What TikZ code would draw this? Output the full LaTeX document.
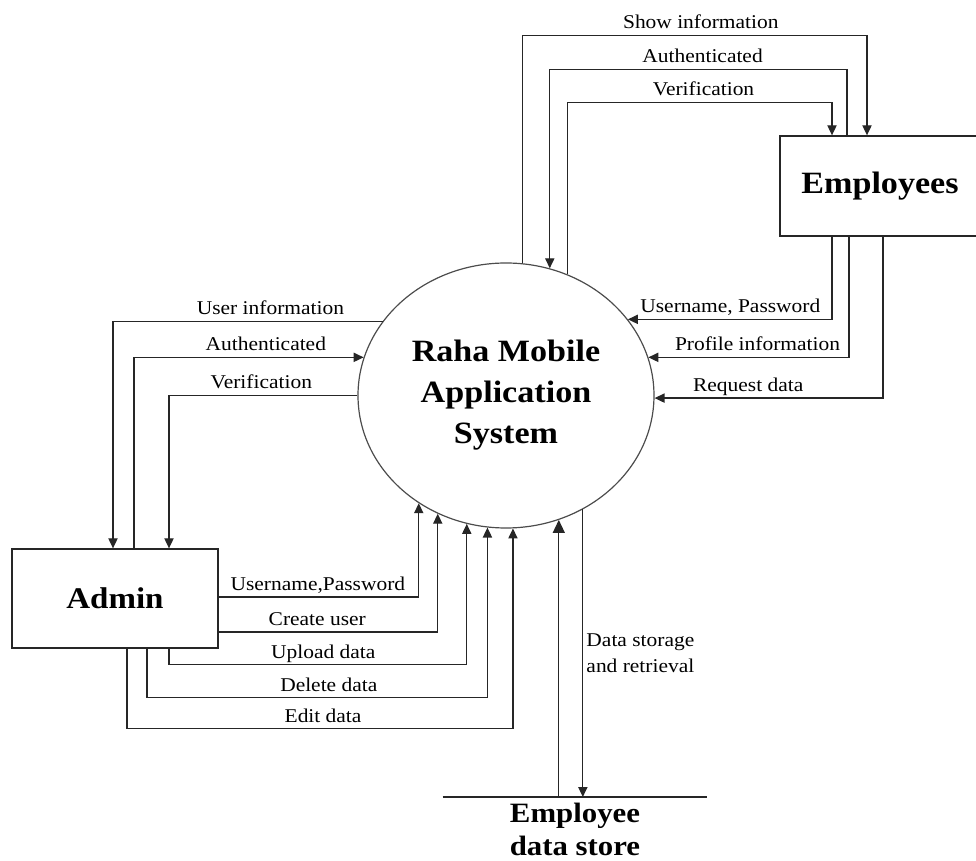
\documentclass[tikz,border=0pt]{standalone}
\usepackage{fontspec}
\setmainfont{Liberation Serif}[FakeStretch=1.1]
\usetikzlibrary{arrows.meta, shapes.geometric, calc}

\begin{document}
\begin{tikzpicture}[
    x=0.5pt, y=-0.5pt,
    process/.style={ellipse, draw=black!70, line width=0.6pt,
                    minimum width=148pt, minimum height=132.5pt,
                    align=center, font=\fontsize{15.5}{20.5}\selectfont\bfseries},
    entity/.style={rectangle, draw=black!85, line width=0.65pt,
                   align=center, font=\fontsize{15.5}{18}\selectfont\bfseries},
    store/.style={anchor=north, align=center, inner sep=3pt,
                  minimum width=132pt, font=\fontsize{14}{16.5}\selectfont\bfseries},
    flow/.style={-{Triangle[length=5pt, width=4.6pt]}, draw=black!85, line width=0.65pt},
    bigflow/.style={flow, -{Triangle[length=6.5pt, width=6pt]}},
    plain/.style={draw=black!85, line width=0.65pt},
    lbl/.style={font=\fontsize{9.75}{13}\selectfont, inner sep=0pt,
                anchor=base, yshift=3.25pt}
]
\useasboundingbox (0,0) rectangle (976,861);

%% --- PROCESS, ENTITIES, STORE ---
\node[process] (sys) at (506,395.5) {Raha Mobile\\Application\\System};
\node[entity, minimum width=100pt, minimum height=50pt] (emp) at (880,186) {Employees};
\node[entity, minimum width=103pt, minimum height=49.5pt,
      font=\fontsize{15}{18}\selectfont\bfseries] (admin) at (115,598.5) {Admin};
\node[store] (store) at (575,797) {Employee\\data store};
\draw[plain] (store.north west) -- (store.north east);

%% --- EMPLOYEES <-> SYSTEM (over the top) ---
\draw[flow] (sys.83.5) |- node[lbl, pos=0.759] {Show information}
    ($(emp.north)+(-13,-100)$) -- ($(emp.north)+(-13,0)$);
\draw[flow] ($(emp.north)+(-33,0)$) -- ++(0,-66)
    -| node[lbl, pos=0.243] {Authenticated} (sys.71.3);
\draw[flow] (sys.63.2) |- node[lbl, pos=0.757] {Verification}
    ($(emp.north)+(-48,-33)$) -- ($(emp.north)+(-48,0)$);

%% --- EMPLOYEES -> SYSTEM (right side) ---
\draw[flow] ($(emp.south)+(-48,0)$) |- node[lbl, pos=0.749] {Username, Password} (sys.32.3);
\draw[flow] ($(emp.south)+(-31,0)$) |- node[lbl, pos=0.728] {Profile information} (sys.15.6);
\draw[flow] ($(emp.south)+(3,0)$) |- node[lbl, pos=0.795] {Request data} (sys.359.4);

%% --- ADMIN <-> SYSTEM (left side) ---
\draw[flow] (sys.149.7) -| node[lbl, pos=0.208] {User information} ($(admin.north)+(-2,0)$);
\draw[flow] ($(admin.north)+(19,0)$) |- node[lbl, pos=0.787] {Authenticated} (sys.165.6);
\draw[flow] (sys.180) -| node[lbl, pos=0.255] {Verification} ($(admin.north)+(54,0)$);

%% --- ADMIN -> SYSTEM (underneath) ---
\draw[flow] ($(admin.east)+(0,-1.5)$) -| node[lbl, pos=0.248] {Username,Password} (sys.231.4);
\draw[flow] ($(admin.east)+(0,33.5)$) -| node[lbl, pos=0.225] {Create user} (sys.240.9);
\draw[flow] ($(admin.south)+(54,0)$) -- ++(0,16)
    -| node[lbl, pos=0.259] {Upload data} (sys.253);
\draw[flow] ($(admin.south)+(32,0)$) -- ++(0,49)
    -| node[lbl, pos=0.267] {Delete data} (sys.262.2);
\draw[flow] ($(admin.south)+(12,0)$) -- ++(0,80)
    -| node[lbl, pos=0.254] {Edit data} (sys.273.5);

%% --- SYSTEM <-> STORE ---
\draw[bigflow] (sys.293.2 |- store.north) -- (sys.293.2);
\draw[flow] (sys.304.2) -- node[right, align=left, inner sep=1.5pt,
    font=\fontsize{9.75}{13}\selectfont] {Data storage\\and retrieval}
    (sys.304.2 |- store.north);

\end{tikzpicture}
\end{document}
